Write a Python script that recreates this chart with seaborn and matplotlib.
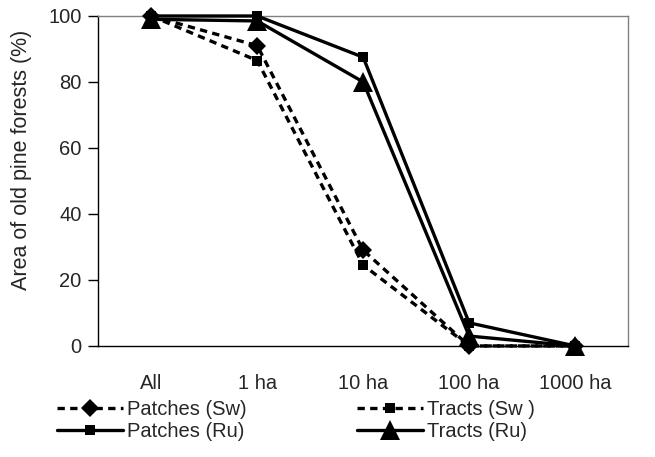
import matplotlib
matplotlib.use("Agg")
import matplotlib.pyplot as plt
import seaborn as sns
import numpy as np

categories = ["All", "1 ha", "10 ha", "100 ha", "1000 ha"]
patches_sw = [100, 91, 29, 0, 0]
tracts_sw = [100, 86.5, 24.5, 0, 0]
patches_ru = [100, 100, 87.5, 7, 0]
tracts_ru = [99, 98.5, 80, 3, 0]
labels = ["Patches (Sw)", "Tracts (Sw )", "Patches (Ru)", "Tracts (Ru)"]

sns.set_style("white")
plt.rcParams['font.family'] = ['Liberation Sans', 'DejaVu Sans']
FS = 14.5

fig = plt.figure(figsize=(6.55, 4.57), dpi=100)
ax = fig.add_axes([0.150, 0.243, 0.809, 0.722])

x = np.arange(len(categories))
dash = (0, (2.2, 1.6))
series = [
    (labels[0], patches_sw, dash, "D", 9.5),
    (labels[1], tracts_sw, dash, "s", 7.5),
    (labels[2], patches_ru, "-", "s", 7.5),
    (labels[3], tracts_ru, "-", "^", 14),
]
for label, vals, ls, mk, ms in series:
    sns.lineplot(x=x, y=vals, ax=ax, color="black", linewidth=2.4,
                 linestyle=ls, marker=mk, markersize=ms, markeredgewidth=0,
                 label=label, clip_on=False, zorder=3)

ax.set_xlim(-0.5, 4.5)
ax.set_ylim(0, 100)
ax.set_yticks([0, 20, 40, 60, 80, 100])
ax.set_xticks(x)
ax.set_xticklabels(categories)
ax.set_xticks(np.arange(-0.5, 5.0, 1.0), minor=True)
ax.tick_params(axis="x", which="major", length=0, pad=20, labelsize=FS)
ax.tick_params(axis="x", which="minor", length=5, width=1, color="black", direction="out")
ax.tick_params(axis="y", which="major", length=7, width=1, color="black", direction="out",
               labelsize=FS, left=True, pad=5)
ax.set_ylabel("Area of old pine forests (%)", fontsize=15.5)
ax.yaxis.set_label_coords(-0.125, 0.564)
ax.set_xlabel("")

for s in ["top", "right"]:
    ax.spines[s].set_color("#808080")
    ax.spines[s].set_linewidth(1)
for s in ["left", "bottom"]:
    ax.spines[s].set_color("black")
    ax.spines[s].set_linewidth(1)

h, l = ax.get_legend_handles_labels()
ax.get_legend().remove()
common = dict(loc="upper left", frameon=False, handlelength=3.3, handletextpad=0.2,
              labelspacing=0.15, fontsize=FS, borderaxespad=0, borderpad=0)
fig.legend([h[0], h[2]], [l[0], l[2]], bbox_to_anchor=(0.087, 0.125), **common)
fig.legend([h[1], h[3]], [l[1], l[3]], bbox_to_anchor=(0.545, 0.125), **common)

fig.savefig("out.png", dpi=100)
